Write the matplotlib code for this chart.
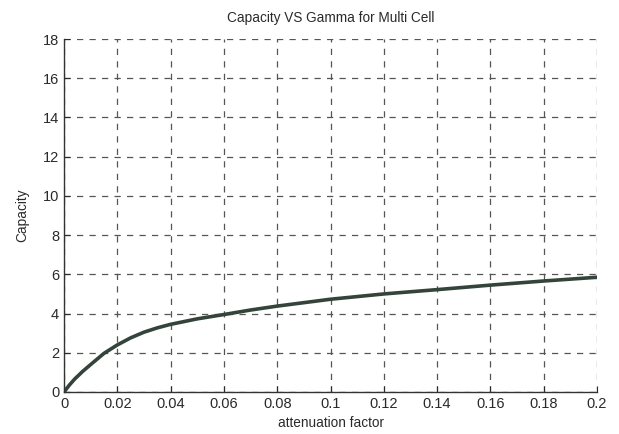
import matplotlib
matplotlib.use("Agg")
import matplotlib.pyplot as plt

# Data
atten = [0, 0.002, 0.004, 0.007, 0.01, 0.015, 0.02, 0.025, 0.03, 0.035, 0.04, 0.05, 0.06, 0.07, 0.08, 0.1, 0.12, 0.14, 0.16, 0.18, 0.2]
capacity = [0, 0.35, 0.66, 1.05, 1.4, 1.97, 2.4, 2.76, 3.05, 3.27, 3.45, 3.73, 3.95, 4.18, 4.38, 4.73, 5.0, 5.22, 5.45, 5.66, 5.85]
xticks = [0, 0.02, 0.04, 0.06, 0.08, 0.1, 0.12, 0.14, 0.16, 0.18, 0.2]
xticklabels = ["0", "0.02", "0.04", "0.06", "0.08", "0.1", "0.12", "0.14", "0.16", "0.18", "0.2"]
yticks = [0, 2, 4, 6, 8, 10, 12, 14, 16, 18]

plt.rcParams['font.family'] = ['Liberation Sans', 'DejaVu Sans']

fig = plt.figure(figsize=(6.19, 4.34), dpi=100)
ax = fig.add_axes([0.1034, 0.0968, 0.8611, 0.8133])

ax.plot(atten, capacity, color='#34443a', linewidth=2.6, solid_capstyle='round', solid_joinstyle='round')

ax.set_xlim(0, 0.2)
ax.set_ylim(0, 18)
ax.set_xticks(xticks)
ax.set_xticklabels(xticklabels)
ax.set_yticks(yticks)
ax.grid(True, linestyle=(0, (5, 5)), color='#555555', linewidth=0.9)
ax.tick_params(direction='in', length=4, labelsize=10.5, colors='#2a2a2a', width=0.8)
for s in ['top', 'right']:
    ax.spines[s].set_visible(False)
for s in ['left', 'bottom']:
    ax.spines[s].set_color('#333333')
    ax.spines[s].set_linewidth(1.0)

ax.set_title("Capacity VS Gamma for Multi Cell", fontsize=9.8, color='#2a2a2a', pad=12)
ax.set_xlabel("attenuation factor", fontsize=9.8, color='#2a2a2a', labelpad=4)
ax.set_ylabel("Capacity", fontsize=9.8, color='#2a2a2a', labelpad=10)

fig.savefig("out.png", dpi=100)
